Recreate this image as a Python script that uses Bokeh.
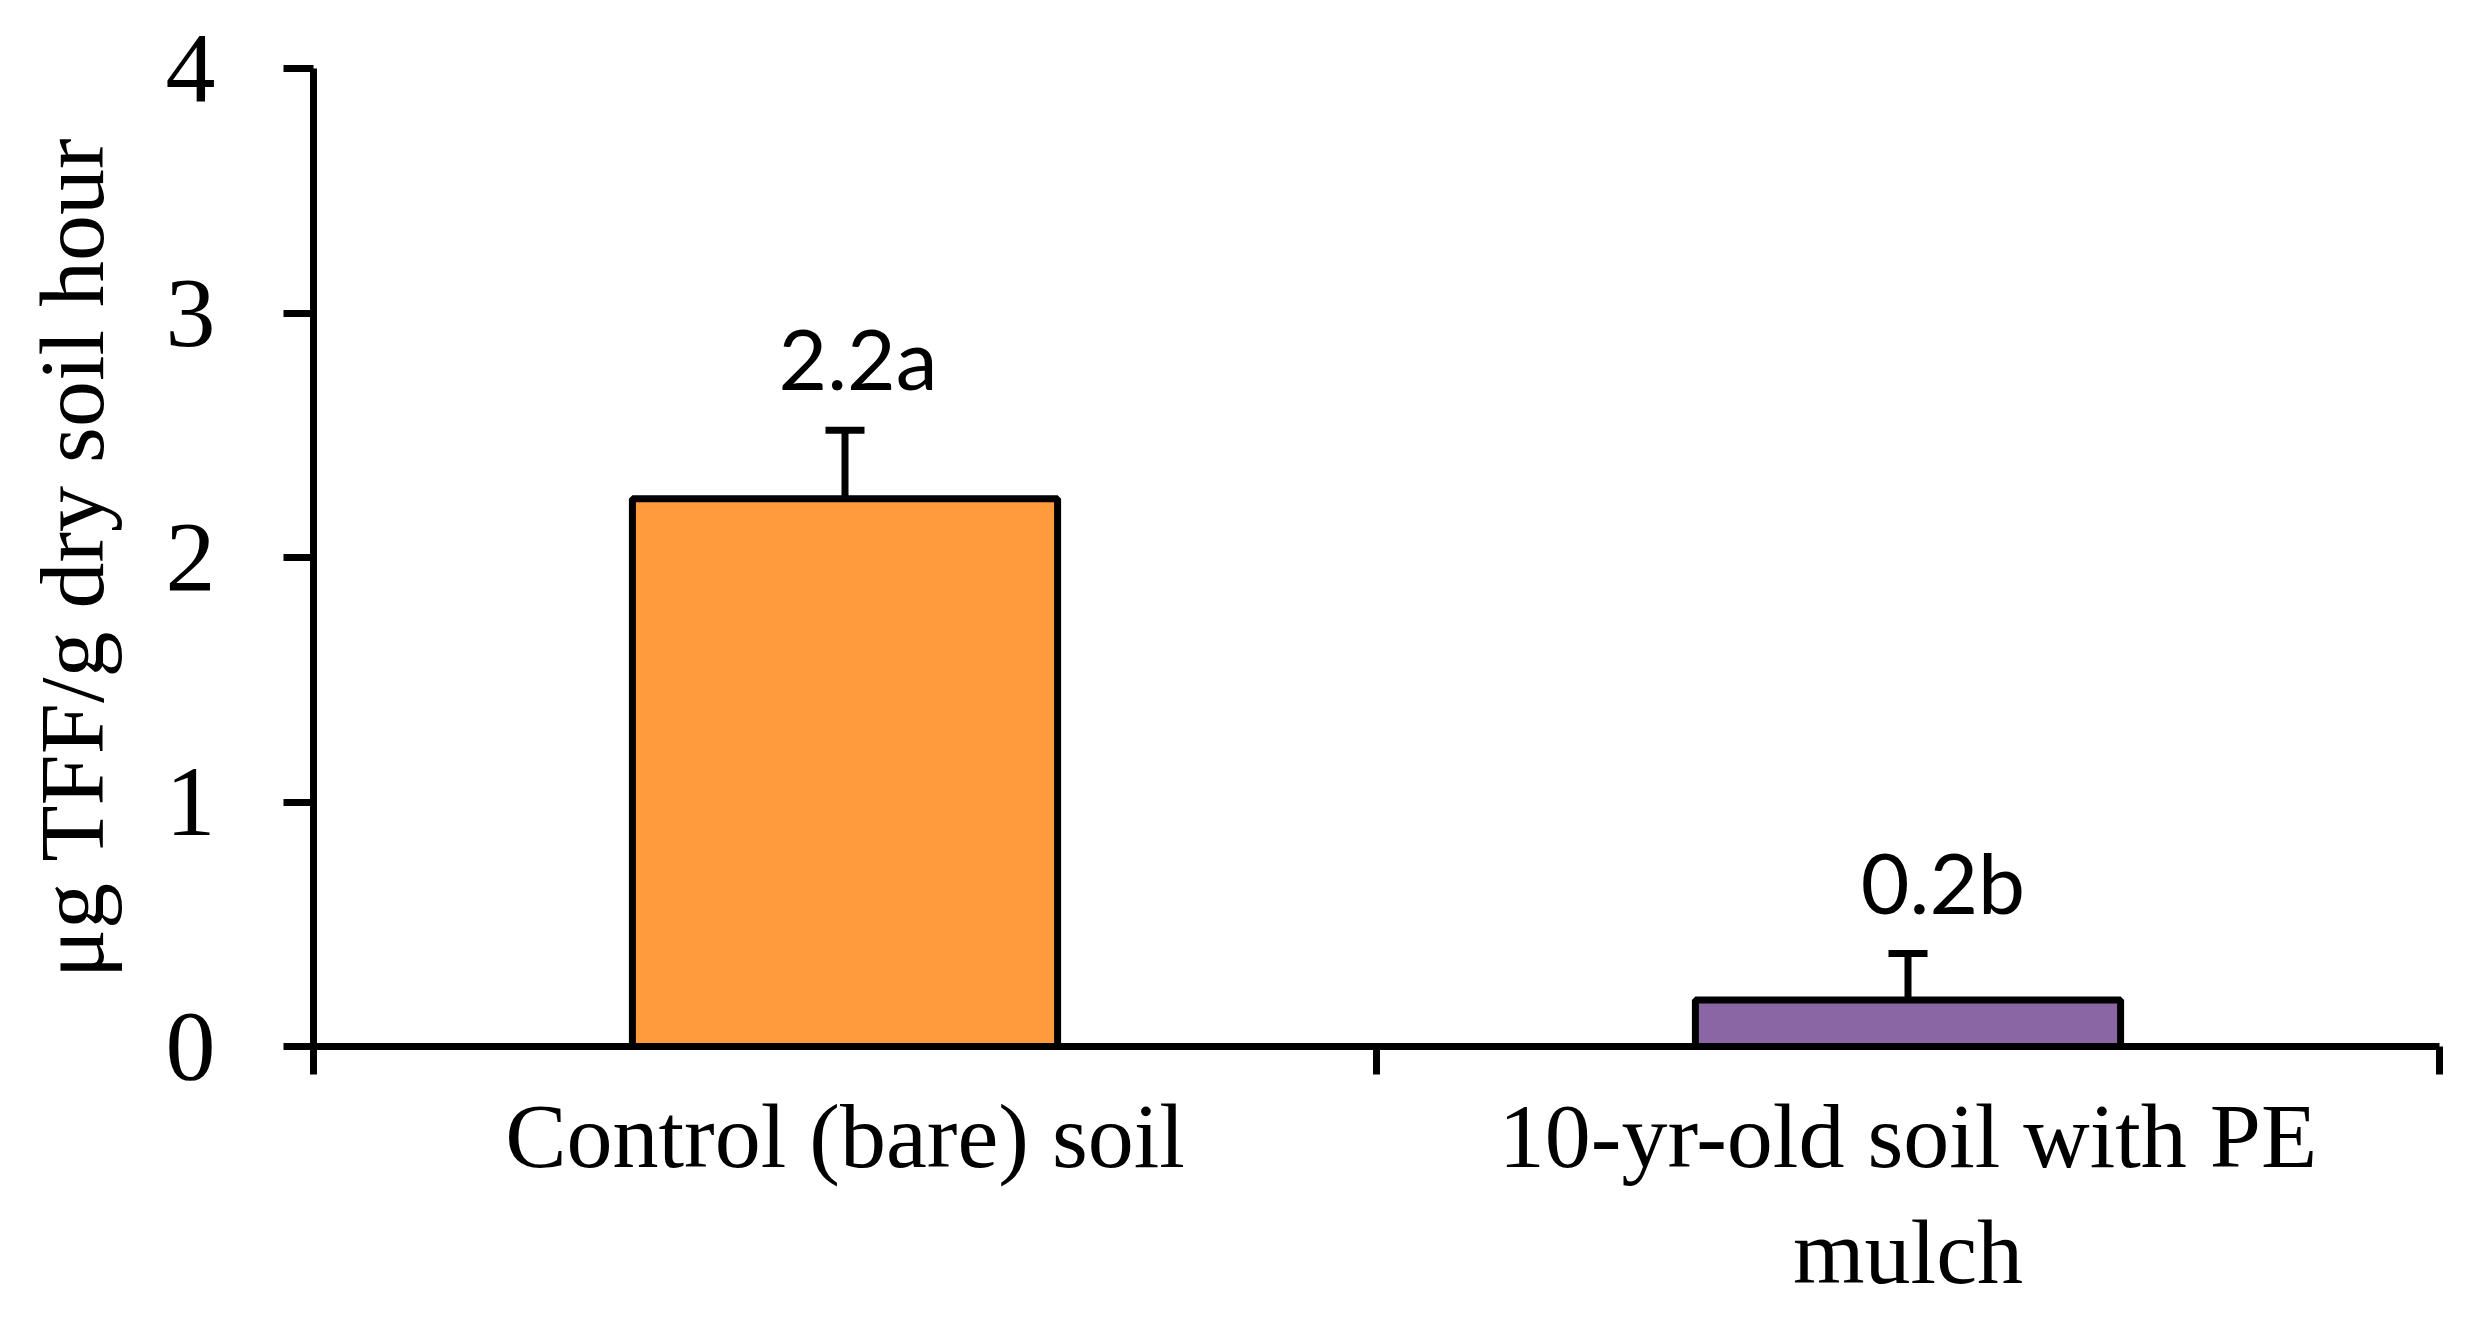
from bokeh.plotting import figure
from bokeh.models import Range1d, FixedTicker, ColumnDataSource, Whisker, TeeHead, LabelSet
from bokeh.core.properties import value
from bokeh.embed import file_html
from bokeh.resources import INLINE

# ---- data ----
categories = ["Control (bare) soil", "10-yr-old soil with PE\nmulch"]
means = [2.24, 0.19]
errors = [0.28, 0.19]
value_labels = ["2.2a", "0.2b"]
bar_colors = ["#FF9A3D", "#8B66A5"]
y_ticks = [0, 1, 2, 3, 4]
y_label = "\u03bcg TFF/g dry soil hour"

# label horizontal nudges (screen px)
label_dx = [13, 35]

n = len(categories)
xpos = [i + 0.5 for i in range(n)]
upper = [m + e for m, e in zip(means, errors)]
src = ColumnDataSource(dict(x=xpos, top=means, upper=upper, color=bar_colors,
                            label=value_labels, dx=label_dx))

SERIF = "Liberation Serif"

p = figure(width=2455, height=1305,
           x_range=Range1d(0, n), y_range=Range1d(y_ticks[0], y_ticks[-1]),
           output_backend="svg", toolbar_location=None,
           min_border_left=313, min_border_right=16,
           min_border_top=68, min_border_bottom=256)
p.outline_line_color = None
p.grid.visible = False
p.background_fill_color = "white"
p.border_fill_color = "white"

p.vbar(x="x", top="top", bottom=0, width=0.4, fill_color="color",
       line_color="black", line_width=7, source=src)

p.add_layout(Whisker(base="x", upper="upper", lower="top", source=src,
                     dimension="height", line_color="black", line_width=7,
                     upper_head=TeeHead(size=39, line_width=7, line_color="black"),
                     lower_head=None))

p.add_layout(LabelSet(x="x", y="upper", text="label", source=src,
                      x_offset="dx", y_offset=40,
                      text_align="center", text_baseline="alphabetic",
                      text_font=value("Lato"), text_font_size="84px",
                      text_color="black"))

# x axis
xa = p.xaxis[0]
xa.ticker = FixedTicker(ticks=xpos, minor_ticks=list(range(n + 1)))
xa.major_label_overrides = {x: c for x, c in zip(xpos, categories)}
xa.major_tick_line_color = None
xa.major_tick_out = 0
xa.major_tick_in = 0
xa.minor_tick_line_color = "black"
xa.minor_tick_line_width = 7
xa.minor_tick_out = 28
xa.minor_tick_in = 0
xa.axis_line_width = 7
xa.axis_line_color = "black"
xa.major_label_text_font = SERIF
xa.major_label_text_font_size = "92px"
xa.major_label_text_color = "black"
xa.major_label_text_line_height = 1.14
xa.major_label_standoff = 10

# y axis
ya = p.yaxis[0]
ya.ticker = FixedTicker(ticks=y_ticks, minor_ticks=[])
ya.major_tick_line_width = 7
ya.major_tick_line_color = "black"
ya.major_tick_out = 30
ya.major_tick_in = 0
ya.axis_line_width = 7
ya.axis_line_color = "black"
ya.major_label_text_font = SERIF
ya.major_label_text_font_size = "100px"
ya.major_label_text_color = "black"
ya.major_label_standoff = 68
ya.axis_label = y_label
ya.axis_label_text_font = SERIF
ya.axis_label_text_font_size = "92px"
ya.axis_label_text_font_style = "normal"
ya.axis_label_text_color = "black"
ya.axis_label_standoff = 40

open("out.html", "w").write(file_html(p, INLINE))
